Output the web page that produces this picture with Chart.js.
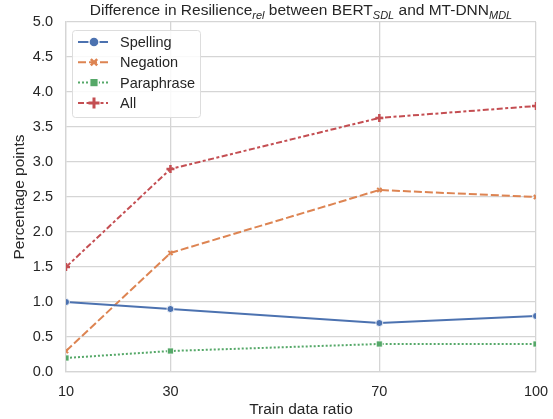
<!DOCTYPE html>
<html>
<head>
<meta charset="utf-8">
<script src="https://cdn.jsdelivr.net/npm/chart.js@4/dist/chart.umd.min.js"></script>
<style>
  html, body { margin: 0; padding: 0; background: #fff; }
  #wrap { width: 553px; height: 419px; }
</style>
</head>
<body>
<div id="wrap"><canvas id="chart" width="553" height="419"></canvas></div>
<script>
var ratios = [10, 30, 70, 100];
var spelling = [1.0, 0.9, 0.7, 0.8];
var negation = [0.3, 1.7, 2.6, 2.5];
var paraphrase = [0.2, 0.3, 0.4, 0.4];
var allTypes = [1.5, 2.9, 3.63, 3.8];
var seriesNames = ["Spelling", "Negation", "Paraphrase", "All"];
var xTicks = [10, 30, 70, 100];

var FONT = "'Liberation Sans', Arial, sans-serif";
var TEXT = "#262626";
var GRID = "#d5d5d5";

function pts(values) {
  return ratios.map(function (r, i) { return { x: r, y: values[i] }; });
}

var styles = [
  { color: "#4c72b0", dash: [], marker: "circle", r: 3.5, bw: 0.8, edge: "#ffffff", lr: 5 },
  { color: "#dd8452", dash: [8, 3], marker: "crossRot", r: 3, bw: 2, edge: null, lr: 4.5 },
  { color: "#55a868", dash: [2, 2], marker: "rect", r: 4.3, bw: 0.8, edge: "#ffffff", lr: 6 },
  { color: "#c44e52", dash: [6, 2.5, 3, 2.5], marker: "cross", r: 4, bw: 2.5, edge: null, lr: 5.5 }
];
var seriesData = [spelling, negation, paraphrase, allTypes];

var datasets = seriesNames.map(function (name, i) {
  var s = styles[i];
  return {
    label: name,
    data: pts(seriesData[i]),
    borderColor: s.color,
    backgroundColor: s.color,
    borderWidth: 2,
    borderDash: s.dash,
    pointStyle: s.marker,
    pointRadius: s.r,
    pointBorderColor: s.edge || s.color,
    pointBorderWidth: s.bw,
    pointBackgroundColor: s.color,
    tension: 0,
    clip: 0
  };
});

// title with subscripts
var titlePlugin = {
  id: "subTitle",
  afterDraw: function (chart) {
    var ctx = chart.ctx;
    var parts = [
      ["Difference in Resilience", false], ["rel", true],
      [" between BERT", false], ["SDL", true],
      [" and MT-DNN", false], ["MDL", true]
    ];
    var big = "15.5px " + FONT, small = "italic 11px " + FONT;
    ctx.save();
    var w = 0;
    parts.forEach(function (p) { ctx.font = p[1] ? small : big; w += ctx.measureText(p[0]).width; });
    var area = chart.chartArea;
    var x = (area.left + area.right) / 2 - w / 2, y = 15;
    ctx.fillStyle = TEXT;
    ctx.textBaseline = "alphabetic";
    ctx.textAlign = "left";
    parts.forEach(function (p) {
      ctx.font = p[1] ? small : big;
      ctx.fillText(p[0], x, p[1] ? y + 3.5 : y);
      x += ctx.measureText(p[0]).width;
    });
    ctx.restore();
  }
};

// legend drawn inside the plot, with line samples
var legendPlugin = {
  id: "boxLegend",
  afterDraw: function (chart) {
    var ctx = chart.ctx;
    var bx = 72.5, by = 30.5, bw = 128, bh = 87;
    ctx.save();
    ctx.beginPath();
    ctx.roundRect(bx, by, bw, bh, 3);
    ctx.fillStyle = "rgba(255,255,255,0.85)";
    ctx.fill();
    ctx.strokeStyle = "#dddddd";
    ctx.lineWidth = 1;
    ctx.stroke();
    chart.data.datasets.forEach(function (ds, i) {
      var y = 42 + i * 20.3;
      ctx.beginPath();
      ctx.setLineDash(ds.borderDash);
      ctx.strokeStyle = ds.borderColor;
      ctx.lineWidth = 2;
      ctx.moveTo(78, y);
      ctx.lineTo(108, y);
      ctx.stroke();
      ctx.setLineDash([]);
      ctx.fillStyle = ds.pointBackgroundColor;
      ctx.strokeStyle = ds.pointBorderColor;
      ctx.lineWidth = ds.pointBorderWidth + 0.5;
      Chart.helpers.drawPoint(ctx, {
        pointStyle: ds.pointStyle,
        radius: styles[i].lr,
        borderWidth: ds.pointBorderWidth + 0.5,
        rotation: 0
      }, 94, y);
      ctx.fillStyle = TEXT;
      ctx.font = "14.5px " + FONT;
      ctx.textBaseline = "middle";
      ctx.fillText(ds.label, 120, y + 1);
    });
    ctx.restore();
  }
};

new Chart(document.getElementById("chart"), {
  type: "line",
  data: { datasets: datasets },
  plugins: [titlePlugin, legendPlugin],
  options: {
    responsive: false,
    animation: false,
    devicePixelRatio: 1,
    layout: { padding: { left: 10, right: 17, top: 22, bottom: 0 } },
    plugins: { legend: { display: false }, tooltip: { enabled: false } },
    scales: {
      x: {
        type: "linear",
        min: 10,
        max: 100,
        afterBuildTicks: function (axis) {
          axis.ticks = xTicks.map(function (v) { return { value: v }; });
        },
        afterFit: function (axis) {
          axis.height = 47;
          axis.paddingLeft = 0;
          axis.paddingRight = 0;
        },
        grid: { color: GRID, lineWidth: 1.3, drawTicks: false },
        border: { color: GRID, width: 1.3 },
        ticks: { color: TEXT, font: { family: FONT, size: 14.5 }, padding: 11, maxRotation: 0 },
        title: { display: true, text: "Train data ratio", color: TEXT, font: { family: FONT, size: 15.5, lineHeight: 1 }, padding: { top: 0, bottom: 2 } }
      },
      y: {
        min: 0,
        max: 5,
        afterFit: function (axis) {
          axis.width = 56;
          axis.paddingTop = 0;
          axis.paddingBottom = 0;
        },
        grid: { color: GRID, lineWidth: 1.3, drawTicks: false },
        border: { color: GRID, width: 1.3 },
        ticks: {
          stepSize: 0.5,
          color: TEXT,
          font: { family: FONT, size: 14.5 },
          padding: 13,
          callback: function (v) { return v.toFixed(1); }
        },
        title: { display: true, text: "Percentage points", color: TEXT, font: { family: FONT, size: 15.5 }, padding: { top: 0, bottom: 4 } }
      }
    }
  }
});
</script>
</body>
</html>
